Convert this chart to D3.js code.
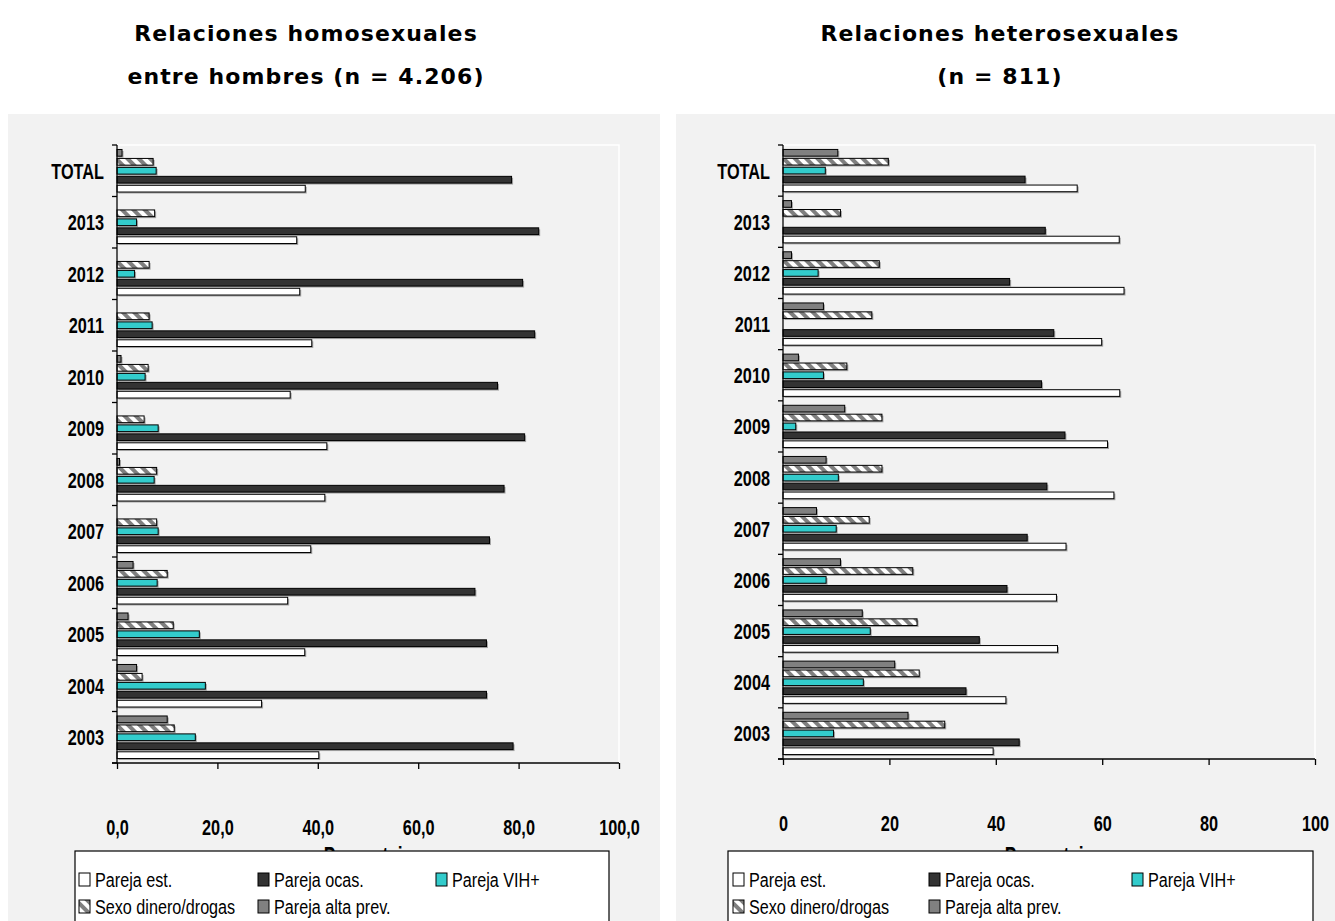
<!DOCTYPE html>
<html>
<head>
<meta charset="utf-8">
<script src="https://cdnjs.cloudflare.com/ajax/libs/d3/7.8.5/d3.min.js"></script>
<style>
    body { margin: 0; background: #fff; }
    .tick text { font-family: "Liberation Sans", Arial, sans-serif; font-weight: bold; }
</style>
</head>
<body>
<div id="chart"></div>
<script>
var categories = ["TOTAL", "2013", "2012", "2011", "2010", "2009", "2008", "2007", "2006", "2005", "2004", "2003"];
var series = ["Pareja est.", "Pareja ocas.", "Pareja VIH+", "Sexo dinero/drogas", "Pareja alta prev."];
var xTicks = [0, 20, 40, 60, 80, 100];

// hombres con hombres (n = 4.206)
var homoEst  = [37.5, 35.8, 36.4, 38.8, 34.5, 41.8, 41.4, 38.6, 34.0, 37.4, 28.8, 40.2];
var homoOcas = [78.6, 84.0, 80.8, 83.2, 75.8, 81.2, 77.1, 74.2, 71.3, 73.6, 73.6, 78.9];
var homoVih  = [7.8, 3.9, 3.5, 7.0, 5.6, 8.2, 7.4, 8.2, 8.0, 16.4, 17.6, 15.6];
var homoSexo = [7.2, 7.5, 6.4, 6.4, 6.2, 5.4, 7.9, 7.9, 10.0, 11.2, 5.0, 11.4];
var homoAlta = [1.0, 0, 0, 0, 0.8, 0, 0.5, 0, 3.2, 2.2, 3.9, 10.0];

// heterosexuales (n = 811)
var heteroEst  = [55.3, 63.2, 64.1, 59.9, 63.3, 61.0, 62.2, 53.2, 51.4, 51.6, 41.9, 39.5];
var heteroOcas = [45.5, 49.3, 42.6, 50.9, 48.6, 53.0, 49.6, 45.9, 42.1, 36.9, 34.4, 44.4];
var heteroVih  = [7.95, 0, 6.6, 0, 7.6, 2.4, 10.4, 10.0, 8.1, 16.4, 15.1, 9.5];
var heteroSexo = [19.8, 10.8, 18.1, 16.7, 12.0, 18.6, 18.6, 16.2, 24.4, 25.2, 25.6, 30.4];
var heteroAlta = [10.3, 1.6, 1.6, 7.6, 2.9, 11.6, 8.1, 6.3, 10.8, 14.9, 21.0, 23.5];

var fills = ["#ffffff", "#333333", "#33cccc", "url(#hatch)", "#808080"];
var narrow = '"Liberation Sans", Arial, sans-serif';

var svg = d3.select("#chart")
    .append("svg")
    .attr("width", 1335)
    .attr("height", 921);

var defs = svg.append("defs");
var pat = defs.append("pattern")
    .attr("id", "hatch")
    .attr("patternUnits", "userSpaceOnUse")
    .attr("width", 8)
    .attr("height", 8)
    .attr("patternTransform", "rotate(-45)");
pat.append("rect").attr("width", 8).attr("height", 8).attr("fill", "#fff");
pat.append("rect").attr("width", 4).attr("height", 8).attr("fill", "#7f7f7f");

function drawPanel(p) {
    var g = svg.append("g");

    g.append("rect")
        .attr("x", p.bgLeft)
        .attr("y", 114)
        .attr("width", p.bgRight - p.bgLeft)
        .attr("height", 921 - 114)
        .attr("fill", "#f2f2f2");

    g.selectAll(".title")
        .data(p.title)
        .enter()
        .append("text")
        .attr("x", p.titleX)
        .attr("y", function (d, i) { return 41 + i * 43; })
        .attr("text-anchor", "middle")
        .style("font-family", "DejaVu Sans, sans-serif")
        .style("font-weight", "bold")
        .style("font-size", "22px")
        .style("letter-spacing", "1.1px")
        .text(function (d) { return d; });

    var x = d3.scaleLinear().domain([0, 100]).range([p.x0, p.x1]);
    var y0 = d3.scaleBand().domain(categories).range([p.top, p.bottom]);
    var y1 = d3.scaleBand().domain(series.slice().reverse())
        .range([0, y0.bandwidth()])
        .paddingInner(0.25)
        .paddingOuter(0.5);

    // plot area border
    g.append("rect")
        .attr("x", p.x0)
        .attr("y", p.top)
        .attr("width", p.x1 - p.x0)
        .attr("height", p.bottom - p.top)
        .attr("fill", "none")
        .attr("stroke", "#ffffff")
        .attr("stroke-width", 1.5);

    var rows = [];
    categories.forEach(function (c, i) {
        series.forEach(function (s, j) {
            var v = p.values[j][i];
            if (v > 0) rows.push({ cat: c, ser: s, idx: j, v: v });
        });
    });

    // shadow
    g.append("g").selectAll("rect")
        .data(rows)
        .enter()
        .append("rect")
        .attr("x", x(0) + 1.5)
        .attr("y", function (d) { return y0(d.cat) + y1(d.ser) + 1.5; })
        .attr("width", function (d) { return x(d.v) - x(0); })
        .attr("height", y1.bandwidth())
        .attr("fill", "#a6a6a6");

    g.append("g").selectAll("rect")
        .data(rows)
        .enter()
        .append("rect")
        .attr("x", x(0))
        .attr("y", function (d) { return y0(d.cat) + y1(d.ser); })
        .attr("width", function (d) { return x(d.v) - x(0); })
        .attr("height", y1.bandwidth())
        .attr("fill", function (d) { return fills[d.idx]; })
        .attr("stroke", "#000")
        .attr("stroke-width", 1);

    // y axis: ticks at category boundaries
    var yAxis = g.append("g");
    yAxis.append("line")
        .attr("x1", p.x0).attr("x2", p.x0)
        .attr("y1", p.top).attr("y2", p.bottom)
        .attr("stroke", "#000").attr("stroke-width", 1.3);
    var bounds = categories.map(function (c) { return y0(c); }).concat([p.bottom]);
    yAxis.selectAll(".yt")
        .data(bounds)
        .enter()
        .append("line")
        .attr("x1", p.x0 - 5).attr("x2", p.x0)
        .attr("y1", function (d) { return d; })
        .attr("y2", function (d) { return d; })
        .attr("stroke", "#000").attr("stroke-width", 1.3);
    yAxis.selectAll(".yl")
        .data(categories)
        .enter()
        .append("text")
        .attr("transform", function (d) {
            return "translate(" + (p.x0 - 13) + "," + (y0(d) + y0.bandwidth() / 2 + 8) + ") scale(0.74,1)";
        })
        .attr("text-anchor", "end")
        .style("font-family", narrow)
        .style("font-weight", "bold")
        .style("font-size", "22px")
        .text(function (d) { return d; });

    // x axis
    var xAxis = d3.axisBottom(x)
        .tickValues(xTicks)
        .tickSize(6)
        .tickPadding(50)
        .tickFormat(p.fmt);
    var xg = g.append("g")
        .attr("transform", "translate(0," + p.bottom + ")")
        .call(xAxis);
    xg.select(".domain").attr("stroke", "#000").attr("stroke-width", 1.3)
        .attr("d", "M" + (p.x0 - 5) + ",0H" + p.x1);
    xg.selectAll(".tick line").attr("stroke", "#000").attr("stroke-width", 1.3);
    xg.selectAll(".tick text")
        .style("font-size", "22px")
        .attr("fill", "#000")
        .attr("transform", "scale(0.74,1)");

    g.append("text")
        .attr("transform", "translate(" + ((p.x0 + p.x1) / 2) + ",864) scale(0.72,1)")
        .attr("text-anchor", "middle")
        .style("font-family", narrow)
        .style("font-weight", "bold")
        .style("font-size", "24px")
        .text("Porcentaje");

    // legend
    var lg = g.append("g");
    lg.append("rect")
        .attr("x", p.legLeft)
        .attr("y", 851)
        .attr("width", p.legRight - p.legLeft)
        .attr("height", 100)
        .attr("fill", "#fff")
        .attr("stroke", "#000")
        .attr("stroke-width", 1.2);
    var item = lg.selectAll(".item")
        .data(series)
        .enter()
        .append("g")
        .attr("transform", function (d, i) {
            var col = i < 3 ? i : i - 3;
            var row = i < 3 ? 0 : 1;
            return "translate(" + p.legCols[col] + "," + (879 + row * 27) + ")";
        });
    item.append("rect")
        .attr("x", 0)
        .attr("y", -6)
        .attr("width", 11)
        .attr("height", 13)
        .attr("fill", function (d, i) { return fills[i]; })
        .attr("stroke", "#000")
        .attr("stroke-width", 1);
    item.append("text")
        .attr("transform", "translate(16,8) scale(0.77,1)")
        .style("font-family", narrow)
        .style("font-size", "21px")
        .text(function (d) { return d; });
}

drawPanel({
    bgLeft: 8, bgRight: 660,
    title: ["Relaciones homosexuales", "entre hombres (n = 4.206)"],
    titleX: 306,
    x0: 117, x1: 619, top: 145, bottom: 763,
    values: [homoEst, homoOcas, homoVih, homoSexo, homoAlta],
    fmt: function (d) { return d3.format(".1f")(d).replace(".", ","); },
    legLeft: 75, legRight: 609,
    legCols: [79, 258, 436]
});

drawPanel({
    bgLeft: 676, bgRight: 1335,
    title: ["Relaciones heterosexuales", "(n = 811)"],
    titleX: 1000,
    x0: 783, x1: 1315, top: 145, bottom: 759,
    values: [heteroEst, heteroOcas, heteroVih, heteroSexo, heteroAlta],
    fmt: d3.format("d"),
    legLeft: 728, legRight: 1313,
    legCols: [733, 929, 1132]
});
</script>
</body>
</html>
